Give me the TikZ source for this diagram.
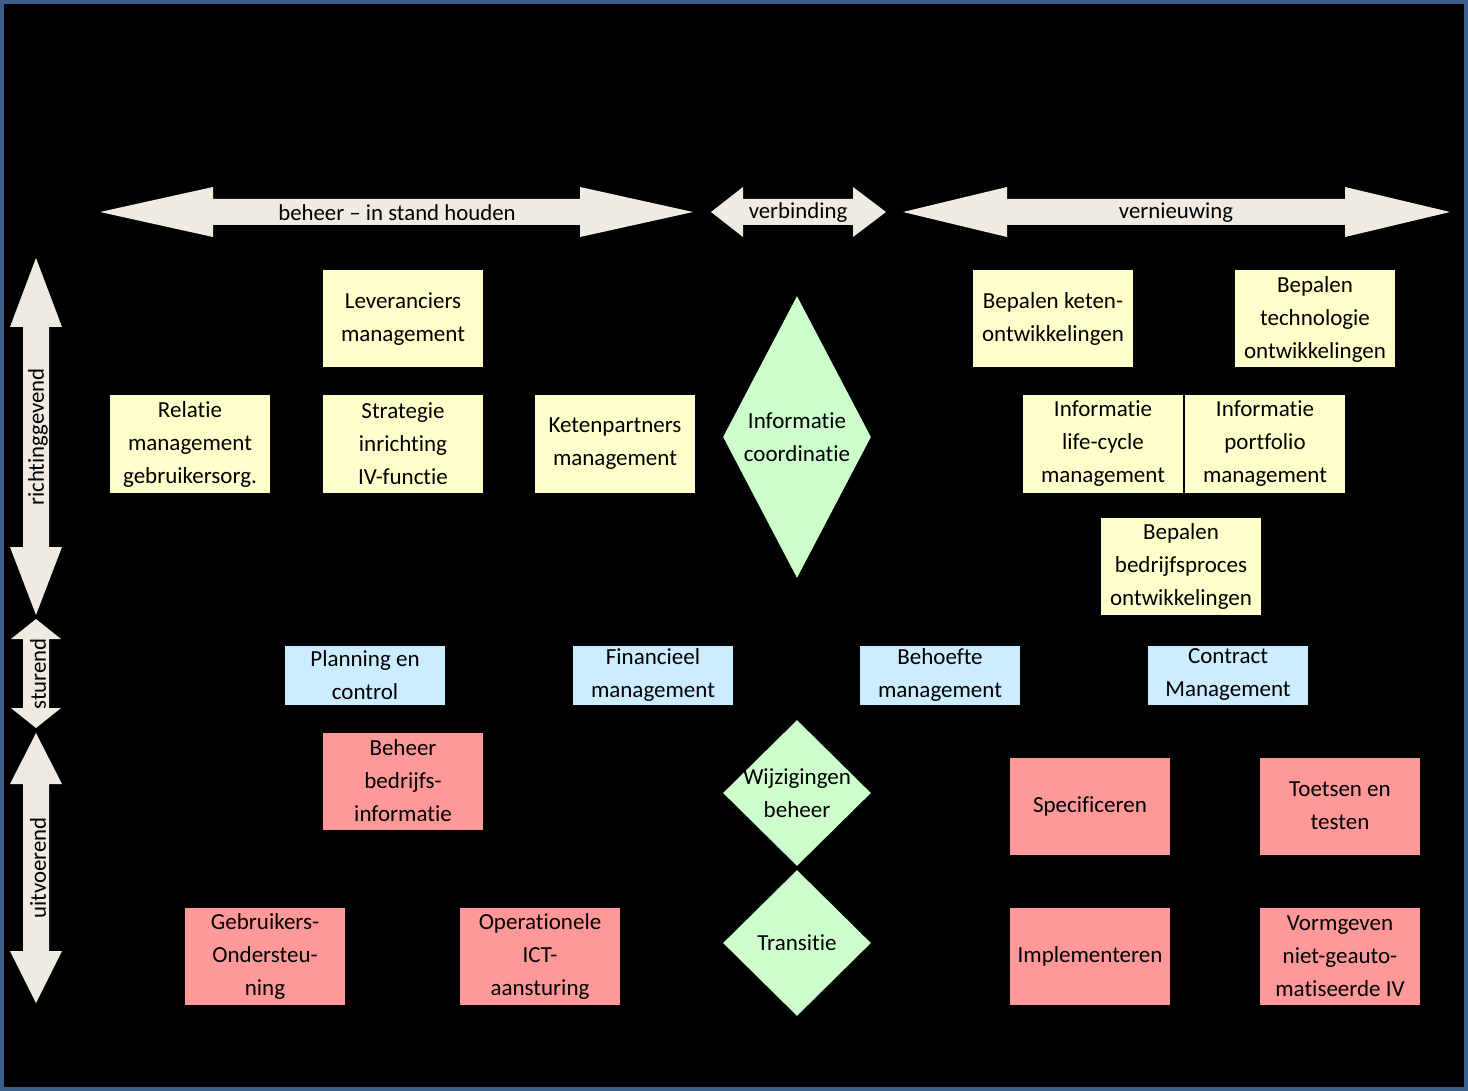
\documentclass[tikz,border=0pt]{standalone}
\usepackage{fontspec}
\setmainfont{Carlito}[Ligatures=NoCommon]
\usetikzlibrary{shapes.geometric}
\definecolor{bgframe}{HTML}{3A5F8B}
\definecolor{yel}{HTML}{FFFFCC}
\definecolor{blu}{HTML}{CCECFF}
\definecolor{redbox}{HTML}{FF9999}
\definecolor{grn}{HTML}{CCFFCC}
\definecolor{arr}{HTML}{EEECE1}
\begin{document}
\begin{tikzpicture}[x=0.5pt,y=-0.5pt,
  txt/.style={font=\fontsize{11.5}{16.5}\selectfont, align=center, text=black},
  box/.style={txt, rectangle, minimum width=80pt, minimum height=48.5pt, inner sep=0pt},
  ybox/.style={box, fill=yel},
  rbox/.style={box, fill=redbox},
  bbox/.style={box, fill=blu, minimum height=29.5pt},
  dia/.style={diamond, fill=grn, inner sep=0pt, minimum width=74pt},
  blockarrow/.style={fill=arr},
  arrtext/.style={font=\fontsize{11.4}{13}\selectfont, text=black, inner sep=0pt},
]
% background and frame
\fill[black] (0,0) rectangle (1468,1091);
\draw[bgframe, line width=2pt] (2,2) rectangle (1466,1089);
\useasboundingbox (0,0) rectangle (1468,1091);

% horizontal block arrows
\fill[blockarrow] (100,212) -- (213,187) -- (213,199) -- (580,199) -- (580,187) -- (693,212)
   -- (580,237) -- (580,225) -- (213,225) -- (213,237) -- cycle;
\node[arrtext] (lbeheer) at (397,213) {beheer -- in stand houden};
\fill[blockarrow] (711,212) -- (743,187) -- (743,199) -- (853,199) -- (853,187) -- (886,212)
   -- (853,237) -- (853,225) -- (743,225) -- (743,237) -- cycle;
\node[arrtext] (lverb) at (798,213) {verbinding};
\fill[blockarrow] (903,212) -- (1007,187) -- (1007,199) -- (1345,199) -- (1345,187) -- (1450,212)
   -- (1345,237) -- (1345,225) -- (1007,225) -- (1007,237) -- cycle;
\node[arrtext] (lvern) at (1176,213) {vernieuwing};

% vertical block arrows
\fill[blockarrow] (36,258) -- (62,327) -- (49,327) -- (49,547) -- (62,547) -- (36,615)
   -- (10,547) -- (23,547) -- (23,327) -- (10,327) -- cycle;
\node[arrtext, rotate=90] (lricht) at (38,437) {richtinggevend};
\fill[blockarrow] (36,619) -- (61,639) -- (49,639) -- (49,708) -- (61,708) -- (36,728)
   -- (11,708) -- (23,708) -- (23,639) -- (11,639) -- cycle;
\node[arrtext, rotate=90] (lstur) at (38,674) {sturend};
\fill[blockarrow] (36,733) -- (62,784) -- (49,784) -- (49,951) -- (62,951) -- (36,1003)
   -- (10,951) -- (23,951) -- (23,784) -- (10,784) -- cycle;
\node[arrtext, rotate=90] (luitv) at (38,868) {uitvoerend};

% yellow boxes
\node[ybox] (lev) at (403,319) {Leveranciers\\management};
\node[ybox] (rel) at (190,444) {Relatie\\management\\gebruikersorg.};
\node[ybox] (str) at (403,444) {Strategie\\inrichting\\IV-functie};
\node[ybox] (ket) at (615,444) {Ketenpartners\\management};
\node[ybox] (bke) at (1053,319) {Bepalen keten-\\ontwikkelingen};
\node[ybox] (bte) at (1315,319) {Bepalen\\technologie\\ontwikkelingen};
\node[ybox] (ilc) at (1103,444) {Informatie\\life-cycle\\management};
\node[ybox] (ipm) at (1265,444) {Informatie\\portfolio\\management};
\node[ybox] (bbp) at (1181,566) {Bepalen\\bedrijfsproces\\ontwikkelingen};
\coordinate (gap) at (1184,491);
\draw[black, line width=1pt] (gap) -- (gap |- bbp.north);

% green diamonds
\node[dia, minimum height=141pt, label={[txt]center:Informatie\\coordinatie}] (ico) at (797,437) {};
\node[dia, minimum height=73pt, label={[txt]center:Wijzigingen\\beheer}] (wzb) at (797,793) {};
\node[dia, minimum height=73pt, label={[txt]center:Transitie}] (trn) at (797,943) {};

% blue boxes
\node[bbox] (pec) at (365,675) {Planning en\\control};
\node[bbox] (fin) at (653,675) {Financieel\\management};
\node[bbox] (beh) at (940,675) {Behoefte\\management};
\node[bbox] (con) at (1228,675) {Contract\\Management};

% red boxes
\node[rbox] (bbi) at (403,781) {Beheer\\bedrijfs-\\informatie};
\node[rbox] (geb) at (265,956) {Gebruikers-\\Ondersteu-\\ning};
\node[rbox] (ope) at (540,956) {Operationele\\ICT-\\aansturing};
\node[rbox] (spe) at (1090,806) {Specificeren};
\node[rbox] (toe) at (1340,806) {Toetsen en\\testen};
\node[rbox] (imp) at (1090,956) {Implementeren};
\node[rbox] (vor) at (1340,956) {Vormgeven\\niet-geauto-\\matiseerde IV};
\end{tikzpicture}
\end{document}
